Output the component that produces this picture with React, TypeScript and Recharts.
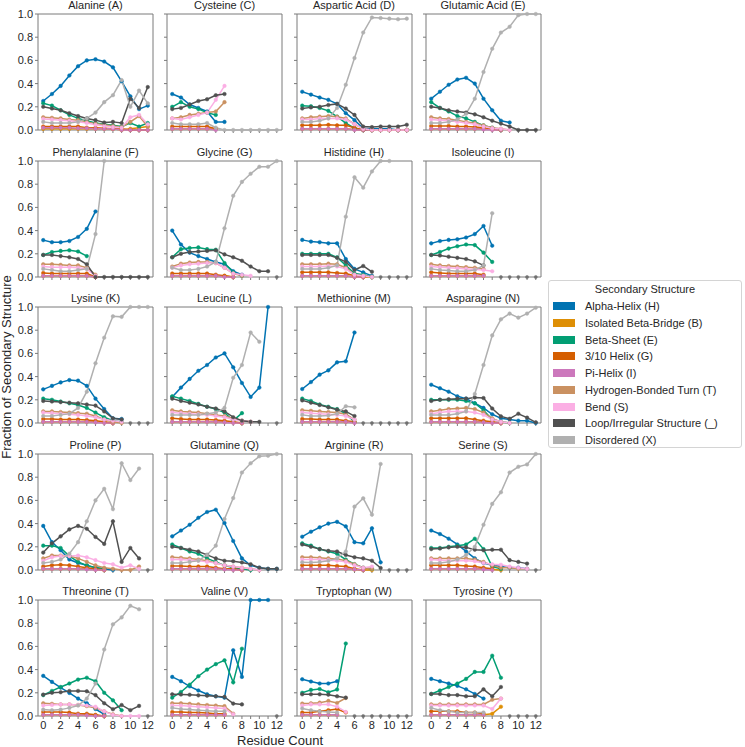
import React from 'react';
import { LineChart, Line, XAxis, YAxis, ReferenceArea } from 'recharts';

type Row = (number | null)[];

const xTicks = [0, 1, 2, 3, 4, 5, 6, 7, 8, 9, 10, 11, 12];
const yTicks = [0, 0.2, 0.4, 0.6, 0.8, 1.0];

const seriesKeys = ['H', 'B', 'E', 'G', 'I', 'T', 'S', 'L', 'X'];
const seriesLabels = [
  'Alpha-Helix (H)',
  'Isolated Beta-Bridge (B)',
  'Beta-Sheet (E)',
  '3/10 Helix (G)',
  'Pi-Helix (I)',
  'Hydrogen-Bonded Turn (T)',
  'Bend (S)',
  'Loop/Irregular Structure (_)',
  'Disordered (X)',
];
const seriesColors = ['#0173b2', '#de8f05', '#029e73', '#d55e00', '#cc78bc', '#ca9161', '#fbafe4', '#505050', '#b0b0b0'];

// rows: H, B, E, G, I, T, S, _, X  (index = residue count)
const alanine: Row[] = [
  [0.25, 0.31, 0.38, 0.47, 0.55, 0.6, 0.61, 0.59, 0.54, 0.42, 0.29, 0.18, 0.21],
  [0.01, 0.01, 0.01, 0.01, 0.01, 0.01, 0.01, 0.01, 0.01, 0.0, 0.01, 0.02, 0.03],
  [0.23, 0.21, 0.17, 0.13, 0.1, 0.08, 0.06, 0.05, 0.04, 0.03, 0.06, 0.03, 0.06],
  [0.03, 0.03, 0.03, 0.03, 0.03, 0.02, 0.02, 0.015, 0.01, 0.01, 0.0, 0.0, 0.0],
  [0.02, 0.02, 0.02, 0.02, 0.015, 0.015, 0.01, 0.01, 0.01, 0.0, 0.0, 0.0, 0.0],
  [0.11, 0.105, 0.1, 0.09, 0.085, 0.07, 0.055, 0.045, 0.035, 0.025, 0.07, 0.12, 0.03],
  [0.095, 0.09, 0.085, 0.08, 0.07, 0.06, 0.045, 0.035, 0.025, 0.02, 0.11, 0.13, 0.05],
  [0.2, 0.185, 0.17, 0.145, 0.12, 0.1, 0.085, 0.065, 0.07, 0.06, 0.27, 0.19, 0.37],
  [0.07, 0.06, 0.06, 0.06, 0.07, 0.1, 0.15, 0.24, 0.3, 0.43, 0.2, 0.34, 0.23],
];
const cysteine: Row[] = [
  [0.31, 0.28, 0.22, 0.19, 0.16, 0.07, 0.07],
  [0.01, 0.01, 0.01, 0.01, 0.01, 0.01],
  [0.2, 0.24, 0.2, 0.18, 0.15, 0.13],
  [0.03, 0.03, 0.03, 0.03, 0.03, 0.01],
  [0.01, 0.01, 0.01, 0.01, 0.01, 0.0],
  [0.1, 0.11, 0.13, 0.14, 0.15, 0.16, 0.24],
  [0.1, 0.09, 0.11, 0.13, 0.15, 0.26, 0.38],
  [0.18, 0.19, 0.22, 0.25, 0.265, 0.3, 0.31],
  [0.06, 0.05, 0.05, 0.05, 0.06, 0.02, 0, 0, 0, 0, 0, 0, 0],
];
const asparticAcid: Row[] = [
  [0.33, 0.305, 0.28, 0.26, 0.225, 0.145, 0.085, 0.015, 0.01, 0.01, 0.01, 0.0, 0.0],
  [0.01, 0.01, 0.01, 0.01, 0.01, 0.01, 0.005, 0, 0, 0, 0, 0, 0],
  [0.21, 0.205, 0.19, 0.165, 0.115, 0.06, 0.015, 0, 0, 0, 0, 0, 0],
  [0.04, 0.04, 0.04, 0.045, 0.04, 0.04, 0.02, 0, 0, 0, 0, 0, 0],
  [0.01, 0.01, 0.01, 0.01, 0.01, 0.01, 0.0, 0, 0, 0, 0, 0, 0],
  [0.1, 0.11, 0.115, 0.12, 0.115, 0.1, 0.05, 0.01, 0, 0, 0, 0, 0],
  [0.09, 0.09, 0.1, 0.1, 0.1, 0.09, 0.05, 0.01, 0, 0, 0, 0, 0],
  [0.185, 0.195, 0.2, 0.215, 0.225, 0.185, 0.13, 0.03, 0.025, 0.03, 0.03, 0.03, 0.045],
  [0.07, 0.07, 0.08, 0.1, 0.19, 0.39, 0.62, 0.84, 0.97, 0.965, 0.96, 0.955, 0.96],
];
const glutamicAcid: Row[] = [
  [0.27, 0.33, 0.39, 0.435, 0.45, 0.4, 0.27, 0.17, 0.08, 0.065],
  [0.01, 0.01, 0.01, 0.01, 0.01, 0.01, 0.01, 0.005, 0],
  [0.24, 0.19, 0.16, 0.12, 0.1, 0.07, 0.04, 0.02, 0.0],
  [0.035, 0.035, 0.035, 0.03, 0.03, 0.025, 0.02, 0.01, 0],
  [0.01, 0.01, 0.01, 0.01, 0.01, 0.01, 0.005, 0, 0],
  [0.11, 0.1, 0.095, 0.085, 0.07, 0.06, 0.04, 0.02, 0.01, 0],
  [0.09, 0.085, 0.08, 0.07, 0.06, 0.05, 0.03, 0.015, 0.01, 0],
  [0.2, 0.19, 0.17, 0.16, 0.15, 0.135, 0.11, 0.08, 0.055, 0.03, 0, 0, 0],
  [0.06, 0.06, 0.07, 0.09, 0.14, 0.27, 0.5, 0.7, 0.84, 0.89, 0.99, 1.0, 1.0],
];
const phenylalanine: Row[] = [
  [0.318, 0.3, 0.3, 0.31, 0.345, 0.415, 0.565],
  [0.01, 0.01, 0.01, 0.01, 0.01, 0.01, 0.0],
  [0.19, 0.215, 0.225, 0.23, 0.22, 0.18],
  [0.035, 0.03, 0.03, 0.03, 0.03, 0.03, 0.0],
  [0.01, 0.01, 0.01, 0.01, 0.01, 0.01, 0.0],
  [0.11, 0.11, 0.105, 0.1, 0.1, 0.08, 0.02],
  [0.09, 0.085, 0.085, 0.085, 0.08, 0.07, 0.01],
  [0.19, 0.19, 0.18, 0.17, 0.155, 0.11, 0.0, 0, 0, 0, 0, 0, 0],
  [0.07, 0.06, 0.05, 0.05, 0.06, 0.07, 0.37, 1.0],
];
const glycine: Row[] = [
  [0.4, 0.28, 0.21, 0.18, 0.155, 0.13, 0.11, 0.05, 0.02],
  [0.01, 0.01, 0.01, 0.01, 0.01, 0.01, 0.01, 0.0],
  [0.17, 0.24, 0.25, 0.255, 0.24, 0.235, 0.12, 0.04, 0.01],
  [0.03, 0.03, 0.03, 0.03, 0.03, 0.02, 0.01, 0],
  [0.01, 0.01, 0.01, 0.01, 0.01, 0.01, 0.0, 0],
  [0.09, 0.115, 0.125, 0.13, 0.13, 0.12, 0.08, 0.03, 0.01],
  [0.08, 0.1, 0.11, 0.115, 0.12, 0.12, 0.08, 0.03, 0.02, 0.01],
  [0.17, 0.2, 0.215, 0.22, 0.225, 0.23, 0.195, 0.17, 0.14, 0.09, 0.05, 0.05],
  [0.08, 0.06, 0.06, 0.07, 0.09, 0.13, 0.42, 0.7, 0.82, 0.89, 0.95, 0.95, 1.0],
];
const histidine: Row[] = [
  [0.32, 0.305, 0.3, 0.29, 0.29, 0.155, 0.07, 0.04, 0.01],
  [0.01, 0.01, 0.01, 0.01, 0.01, 0.01, 0.0, 0, 0],
  [0.2, 0.2, 0.2, 0.2, 0.17, 0.1, 0.03, 0.02, 0.0],
  [0.04, 0.04, 0.04, 0.04, 0.035, 0.03, 0.01, 0],
  [0.01, 0.01, 0.01, 0.01, 0.01, 0.01, 0.0, 0],
  [0.11, 0.11, 0.11, 0.115, 0.11, 0.08, 0.02, 0.01, 0],
  [0.09, 0.09, 0.09, 0.095, 0.09, 0.07, 0.02, 0.01, 0],
  [0.19, 0.19, 0.19, 0.19, 0.165, 0.13, 0.06, 0.095, 0.045],
  [0.07, 0.07, 0.07, 0.08, 0.1, 0.52, 0.86, 0.77, 0.91, 1.0, 1.0],
];
const isoleucine: Row[] = [
  [0.29, 0.31, 0.32, 0.325, 0.34, 0.37, 0.44, 0.27],
  [0.01, 0.01, 0.01, 0.01, 0.01, 0.01, 0.01],
  [0.19, 0.215, 0.245, 0.265, 0.28, 0.275, 0.21, 0.13],
  [0.04, 0.035, 0.03, 0.03, 0.03, 0.03, 0.02],
  [0.01, 0.01, 0.01, 0.01, 0.01, 0.01, 0.01],
  [0.11, 0.1, 0.095, 0.09, 0.085, 0.08, 0.07],
  [0.09, 0.085, 0.08, 0.075, 0.07, 0.065, 0.06, 0.05],
  [0.19, 0.185, 0.175, 0.165, 0.155, 0.135, 0.1],
  [0.07, 0.06, 0.055, 0.05, 0.05, 0.06, 0.1, 0.55],
];
const lysine: Row[] = [
  [0.29, 0.32, 0.35, 0.37, 0.365, 0.32, 0.21, 0.12, 0.04, 0.035],
  [0.01, 0.01, 0.01, 0.01, 0.01, 0.01, 0.01, 0.005, 0],
  [0.21, 0.2, 0.185, 0.17, 0.155, 0.13, 0.09, 0.05, 0.02, 0.01],
  [0.035, 0.035, 0.03, 0.03, 0.03, 0.025, 0.02, 0.01, 0],
  [0.01, 0.01, 0.01, 0.01, 0.01, 0.01, 0.005, 0, 0],
  [0.1, 0.1, 0.095, 0.09, 0.085, 0.08, 0.06, 0.03, 0.01, 0],
  [0.09, 0.085, 0.08, 0.075, 0.07, 0.06, 0.05, 0.03, 0.02, 0.01],
  [0.19, 0.185, 0.18, 0.175, 0.17, 0.16, 0.15, 0.1, 0.04, 0.03],
  [0.06, 0.06, 0.07, 0.08, 0.13, 0.27, 0.515, 0.735, 0.92, 0.915, 1.0, 1.0, 1.0],
];
const leucine: Row[] = [
  [0.225, 0.305, 0.38, 0.45, 0.5, 0.565, 0.6, 0.48, 0.345, 0.225, 0.305, 1.0],
  [0.01, 0.01, 0.01, 0.01, 0.01, 0.01, 0.01, 0.005, 0],
  [0.23, 0.21, 0.19, 0.165, 0.14, 0.12, 0.09, 0.02, 0.085],
  [0.04, 0.035, 0.03, 0.03, 0.03, 0.025, 0.02, 0.01, 0],
  [0.01, 0.01, 0.01, 0.01, 0.01, 0.01, 0.005, 0, 0],
  [0.11, 0.1, 0.095, 0.09, 0.08, 0.07, 0.06, 0.04, 0.02, 0.01],
  [0.09, 0.085, 0.08, 0.075, 0.07, 0.06, 0.05, 0.03, 0.02, 0.01],
  [0.21, 0.19, 0.175, 0.16, 0.14, 0.125, 0.1, 0.05, 0.02, 0.01, 0.01],
  [0.07, 0.07, 0.07, 0.07, 0.08, 0.09, 0.13, 0.39, 0.5, 0.78, 0.7],
];
const methionine: Row[] = [
  [0.293, 0.353, 0.417, 0.454, 0.523, 0.532, 0.78],
  [0.01, 0.01, 0.01, 0.01, 0.01, 0.01, 0.005],
  [0.21, 0.19, 0.16, 0.14, 0.12, 0.08, 0.01],
  [0.035, 0.035, 0.03, 0.03, 0.03, 0.02, 0.01],
  [0.01, 0.01, 0.01, 0.01, 0.01, 0.01, 0.0],
  [0.11, 0.105, 0.1, 0.095, 0.09, 0.075, 0.03],
  [0.09, 0.085, 0.08, 0.075, 0.07, 0.06, 0.03],
  [0.195, 0.175, 0.155, 0.135, 0.115, 0.1, 0.06],
  [0.07, 0.06, 0.06, 0.065, 0.08, 0.145, 0.135],
];
const asparagine: Row[] = [
  [0.33, 0.3, 0.27, 0.23, 0.21, 0.17, 0.13, 0.075, 0.04, 0.03, 0.02, 0.02, 0.0],
  [0.01, 0.01, 0.01, 0.01, 0.01, 0.01, 0.01, 0.005, 0],
  [0.2, 0.2, 0.2, 0.2, 0.19, 0.17, 0.11, 0.03, 0.01, 0],
  [0.04, 0.04, 0.04, 0.04, 0.04, 0.03, 0.02, 0.01, 0],
  [0.01, 0.01, 0.01, 0.01, 0.01, 0.01, 0.005, 0, 0],
  [0.1, 0.11, 0.12, 0.125, 0.13, 0.12, 0.09, 0.04, 0.01, 0],
  [0.08, 0.09, 0.1, 0.1, 0.1, 0.09, 0.07, 0.03, 0.01, 0],
  [0.19, 0.2, 0.205, 0.21, 0.21, 0.22, 0.215, 0.125, 0.057, 0.037, 0.08, 0.046, 0.006],
  [0.07, 0.07, 0.07, 0.08, 0.1, 0.25, 0.5, 0.755, 0.894, 0.943, 0.908, 0.943, 0.994],
];
const proline: Row[] = [
  [0.38, 0.24, 0.17, 0.09, 0.06, 0.04, 0.02, 0.01, 0.0],
  [0.01, 0.01, 0.01, 0.01, 0.01, 0.01, 0.005, 0],
  [0.21, 0.21, 0.19, 0.12, 0.07, 0.04, 0.02, 0.01],
  [0.03, 0.04, 0.045, 0.04, 0.03, 0.02, 0.01, 0.0],
  [0.01, 0.01, 0.01, 0.01, 0.01, 0.005, 0, 0],
  [0.1, 0.125, 0.125, 0.12, 0.1, 0.07, 0.04, 0.02, 0.01, 0, 0, 0.03],
  [0.08, 0.11, 0.12, 0.12, 0.125, 0.11, 0.085, 0.06, 0.05, 0.02, 0.04, 0.01],
  [0.15, 0.23, 0.29, 0.35, 0.38, 0.355, 0.285, 0.225, 0.42, 0.07, 0.19, 0.1],
  [0.06, 0.07, 0.09, 0.14, 0.24, 0.42, 0.6, 0.7, 0.525, 0.92, 0.775, 0.875],
];
const glutamine: Row[] = [
  [0.29, 0.34, 0.39, 0.45, 0.5, 0.52, 0.405, 0.25, 0.1, 0.04, 0.02, 0.01, 0.01],
  [0.01, 0.01, 0.01, 0.01, 0.01, 0.01, 0.01, 0.005, 0],
  [0.22, 0.19, 0.16, 0.14, 0.1, 0.07, 0.04, 0.02, 0.01, 0],
  [0.035, 0.035, 0.03, 0.03, 0.03, 0.02, 0.01, 0.01, 0],
  [0.01, 0.01, 0.01, 0.01, 0.01, 0.01, 0.005, 0, 0],
  [0.11, 0.105, 0.1, 0.09, 0.08, 0.06, 0.04, 0.03, 0.02, 0.01, 0],
  [0.09, 0.09, 0.085, 0.08, 0.07, 0.06, 0.04, 0.03, 0.02, 0.01, 0],
  [0.2, 0.19, 0.175, 0.16, 0.13, 0.1, 0.08, 0.075, 0.065, 0.05, 0.02, 0.01, 0.01],
  [0.06, 0.06, 0.07, 0.08, 0.13, 0.21, 0.44, 0.62, 0.84, 0.92, 0.98, 0.985, 1.0],
];
const arginine: Row[] = [
  [0.287, 0.33, 0.368, 0.4, 0.415, 0.376, 0.24, 0.23, 0.36, 0.066],
  [0.01, 0.01, 0.01, 0.01, 0.01, 0.01, 0.005, 0, 0],
  [0.23, 0.21, 0.18, 0.16, 0.14, 0.09, 0.05, 0.02, 0.01],
  [0.04, 0.04, 0.04, 0.04, 0.035, 0.03, 0.01, 0],
  [0.01, 0.01, 0.01, 0.01, 0.01, 0.01, 0.005, 0],
  [0.11, 0.11, 0.105, 0.1, 0.095, 0.08, 0.05, 0.02, 0.01],
  [0.09, 0.09, 0.09, 0.085, 0.08, 0.07, 0.04, 0.02, 0.03],
  [0.22, 0.2, 0.18, 0.165, 0.16, 0.13, 0.11, 0.1, 0.08, 0.017],
  [0.066, 0.065, 0.07, 0.08, 0.1, 0.16, 0.546, 0.618, 0.477, 0.914],
];
const serine: Row[] = [
  [0.34, 0.31, 0.27, 0.22, 0.16, 0.1, 0.06, 0.04, 0.03, 0.02, 0.02, 0.01],
  [0.01, 0.01, 0.01, 0.01, 0.01, 0.01, 0.01, 0.005, 0],
  [0.19, 0.19, 0.2, 0.21, 0.22, 0.27, 0.18, 0.03, 0.01],
  [0.04, 0.04, 0.04, 0.04, 0.035, 0.03, 0.02, 0.01],
  [0.01, 0.01, 0.01, 0.01, 0.01, 0.01, 0.005, 0],
  [0.1, 0.1, 0.1, 0.1, 0.1, 0.09, 0.07, 0.04, 0.02, 0.02, 0.01, 0.01],
  [0.09, 0.085, 0.08, 0.08, 0.08, 0.075, 0.06, 0.05, 0.045, 0.03, 0.02, 0.01],
  [0.18, 0.185, 0.195, 0.2, 0.195, 0.175, 0.17, 0.175, 0.175, 0.085, 0.07, 0.055],
  [0.06, 0.06, 0.07, 0.09, 0.13, 0.2, 0.39, 0.57, 0.67, 0.84, 0.89, 0.91, 1.0],
];
const threonine: Row[] = [
  [0.346, 0.294, 0.245, 0.199, 0.15, 0.11, 0.06, 0.015],
  [0.01, 0.01, 0.01, 0.01, 0.01, 0.01, 0.005, 0],
  [0.18, 0.216, 0.25, 0.28, 0.314, 0.33, 0.3, 0.2, 0.135, 0.05],
  [0.035, 0.035, 0.035, 0.03, 0.02, 0.02, 0.01, 0],
  [0.01, 0.01, 0.01, 0.01, 0.01, 0.005, 0, 0],
  [0.11, 0.105, 0.1, 0.1, 0.095, 0.085, 0.07, 0.04, 0.015, 0],
  [0.09, 0.095, 0.1, 0.1, 0.095, 0.09, 0.08, 0.04, 0.01, 0, 0, 0],
  [0.184, 0.2, 0.205, 0.216, 0.216, 0.213, 0.18, 0.11, 0.058, 0.095, 0.05, 0.087],
  [0.055, 0.05, 0.055, 0.07, 0.09, 0.15, 0.28, 0.573, 0.79, 0.85, 0.95, 0.92],
];
const valine: Row[] = [
  [0.337, 0.3, 0.256, 0.22, 0.187, 0.17, 0.158, 0.567, 0.337, 1.0, 1.0, 1.0],
  [0.01, 0.01, 0.01, 0.01, 0.01, 0.01, 0.01],
  [0.158, 0.207, 0.27, 0.343, 0.4, 0.447, 0.48, 0.29, 0.58],
  [0.035, 0.035, 0.03, 0.03, 0.025, 0.02, 0.02],
  [0.01, 0.01, 0.01, 0.01, 0.01, 0.01, 0.01],
  [0.11, 0.11, 0.105, 0.1, 0.095, 0.09, 0.085, 0.02],
  [0.09, 0.09, 0.085, 0.08, 0.075, 0.07, 0.065, 0.015],
  [0.187, 0.185, 0.183, 0.178, 0.175, 0.17, 0.165, 0.107, 0.1],
  [0.07, 0.06, 0.055, 0.05, 0.045, 0.04, 0.04],
];
const tryptophan: Row[] = [
  [0.317, 0.297, 0.28, 0.28, 0.3],
  [0.01, 0.01, 0.01, 0.01, 0.01],
  [0.2, 0.225, 0.233, 0.205, 0.228, 0.625],
  [0.03, 0.03, 0.04, 0.05, 0.06, 0.03],
  [0.01, 0.01, 0.01, 0.01, 0.01],
  [0.107, 0.11, 0.115, 0.13, 0.112, 0.155],
  [0.09, 0.1, 0.1, 0.1, 0.08, 0.035],
  [0.187, 0.187, 0.187, 0.184, 0.17, 0.158],
  [0.065, 0.05, 0.04, 0.035, 0.03],
];
const tyrosine: Row[] = [
  [0.32, 0.3, 0.28, 0.26, 0.23, 0.19, 0.15],
  [0.01, 0.01, 0.01, 0.01, 0.01, 0.01, 0.01, 0.02, 0.08],
  [0.19, 0.22, 0.25, 0.28, 0.32, 0.38, 0.38, 0.52, 0.33],
  [0.04, 0.04, 0.04, 0.04, 0.03, 0.03, 0.02],
  [0.01, 0.01, 0.01, 0.01, 0.01, 0.01, 0.01],
  [0.1, 0.1, 0.1, 0.1, 0.1, 0.1, 0.1, 0.14, 0.15],
  [0.09, 0.09, 0.09, 0.09, 0.09, 0.09, 0.09, 0.06, 0.15],
  [0.19, 0.19, 0.18, 0.18, 0.17, 0.17, 0.23, 0.17, 0.25],
  [0.07, 0.05, 0.04, 0.03, 0.03, 0.03, 0.03],
];

// residue counts with an empty (0) marker past the end of the data
const glycineEmpty = [12];
const histidineEmpty = [9, 10, 11, 12];
const isoleucineEmpty = [8, 9, 10, 11, 12];
const lysineEmpty = [10, 11, 12];
const leucineEmpty = [12];
const methionineEmpty = [7, 8, 9, 10, 11, 12];
const prolineEmpty = [12];
const arginineEmpty = [10, 11, 12];
const serineEmpty = [12];
const threonineEmpty = [12];
const valineEmpty = [12];
const tryptophanEmpty = [6, 7, 8, 9, 10, 11, 12];
const tyrosineEmpty = [9, 10, 11, 12];

const panels = [
  { title: 'Alanine (A)', rows: alanine, empty: [] as number[] },
  { title: 'Cysteine (C)', rows: cysteine, empty: [] as number[] },
  { title: 'Aspartic Acid (D)', rows: asparticAcid, empty: [] as number[] },
  { title: 'Glutamic Acid (E)', rows: glutamicAcid, empty: [] as number[] },
  { title: 'Phenylalanine (F)', rows: phenylalanine, empty: [] as number[] },
  { title: 'Glycine (G)', rows: glycine, empty: glycineEmpty },
  { title: 'Histidine (H)', rows: histidine, empty: histidineEmpty },
  { title: 'Isoleucine (I)', rows: isoleucine, empty: isoleucineEmpty },
  { title: 'Lysine (K)', rows: lysine, empty: lysineEmpty },
  { title: 'Leucine (L)', rows: leucine, empty: leucineEmpty },
  { title: 'Methionine (M)', rows: methionine, empty: methionineEmpty },
  { title: 'Asparagine (N)', rows: asparagine, empty: [] as number[] },
  { title: 'Proline (P)', rows: proline, empty: prolineEmpty },
  { title: 'Glutamine (Q)', rows: glutamine, empty: [] as number[] },
  { title: 'Arginine (R)', rows: arginine, empty: arginineEmpty },
  { title: 'Serine (S)', rows: serine, empty: serineEmpty },
  { title: 'Threonine (T)', rows: threonine, empty: threonineEmpty },
  { title: 'Valine (V)', rows: valine, empty: valineEmpty },
  { title: 'Tryptophan (W)', rows: tryptophan, empty: tryptophanEmpty },
  { title: 'Tyrosine (Y)', rows: tyrosine, empty: tyrosineEmpty },
];

const colX = [38, 167, 296.5, 425.5];
const rowY = [14, 160.5, 307, 453.5, 600];
const PW = 115;
const FRAME = '#7a7a7a';
const TEXT = '#262626';

const Panel = ({ idx }: { idx: number }) => {
  const p = panels[idx];
  const col = idx % 4;
  const row = Math.floor(idx / 4);
  const bottom = row === 4;
  const data = xTicks.map((x, i) => {
    const d: Record<string, number | null> = { x };
    seriesKeys.forEach((k, j) => {
      const v = p.rows[j][i];
      d[k] = v === undefined ? null : v;
    });
    d.Z = p.empty.includes(x) ? 0 : null;
    return d;
  });

  return (
    <>
      <div
        style={{
          position: 'absolute',
          left: colX[col],
          top: rowY[row] - 16,
          width: PW,
          textAlign: 'center',
          fontSize: 11,
          lineHeight: '14px',
          color: TEXT,
          whiteSpace: 'nowrap',
        }}
      >
        {p.title}
      </div>
      <div style={{ position: 'absolute', left: colX[col] - 40, top: rowY[row] - 5 }}>
        <LineChart width={160} height={146} data={data} margin={{ top: 5, right: 5, left: 0, bottom: 0 }}>
          <XAxis
            dataKey="x"
            type="number"
            domain={[-0.6, 12.6]}
            ticks={xTicks}
            interval={0}
            height={25}
            axisLine={false}
            tickSize={3}
            tickLine={{ stroke: FRAME }}
            tick={{ fontSize: 11, fill: TEXT }}
            tickFormatter={(v: number) => (bottom && v % 2 === 0 ? String(v) : '')}
          />
          <YAxis
            type="number"
            domain={[0, 1]}
            ticks={yTicks}
            interval={0}
            width={40}
            axisLine={false}
            tickSize={3}
            tickLine={{ stroke: FRAME }}
            tick={{ fontSize: 11, fill: TEXT }}
            tickFormatter={(v: number) => (col === 0 ? v.toFixed(1) : '')}
          />
          <ReferenceArea x1={-0.6} x2={12.6} y1={0} y2={1} fill="none" stroke={FRAME} strokeWidth={1} />
          {seriesKeys.map((k, j) => (
            <Line
              key={k}
              dataKey={k}
              type="linear"
              stroke={seriesColors[j]}
              strokeWidth={1.5}
              dot={{ r: 1.8, fill: seriesColors[j], stroke: seriesColors[j], strokeWidth: 0.5 }}
              activeDot={false}
              isAnimationActive={false}
            />
          ))}
          <Line
            dataKey="Z"
            stroke="none"
            dot={{ r: 1.6, fill: '#707070', stroke: '#707070', strokeWidth: 0.5 }}
            activeDot={false}
            isAnimationActive={false}
          />
        </LineChart>
      </div>
    </>
  );
};

const Legend = () => (
  <div
    style={{
      position: 'absolute',
      left: 548,
      top: 280,
      width: 194,
      height: 168,
      border: '1px solid #d4d4d4',
      borderRadius: 3,
      boxSizing: 'border-box',
      color: TEXT,
      fontSize: 11,
    }}
  >
    <div style={{ position: 'absolute', left: 0, right: 0, top: 1, textAlign: 'center', lineHeight: '14px' }}>
      Secondary Structure
    </div>
    {seriesLabels.map((label, i) => (
      <div key={label} style={{ position: 'absolute', left: 4, top: 18 + i * 16.75, height: 14, lineHeight: '14px', whiteSpace: 'nowrap' }}>
        <span
          style={{
            position: 'absolute',
            left: 0,
            top: 3,
            width: 22,
            height: 8,
            background: seriesColors[i],
          }}
        />
        <span style={{ position: 'absolute', left: 32 }}>{label}</span>
      </div>
    ))}
  </div>
);

export default function App() {
  return (
    <div
      style={{
        position: 'absolute',
        left: 0,
        top: 0,
        width: 745,
        height: 747,
        background: '#fff',
        fontFamily: '"Liberation Sans", Arial, sans-serif',
        overflow: 'hidden',
      }}
    >
      {panels.map((_, i) => (
        <Panel key={i} idx={i} />
      ))}
      <Legend />
      <div
        style={{
          position: 'absolute',
          left: 180,
          top: 733,
          width: 200,
          textAlign: 'center',
          fontSize: 13,
          lineHeight: '16px',
          color: TEXT,
        }}
      >
        Residue Count
      </div>
      <div
        style={{
          position: 'absolute',
          left: 7,
          top: 367,
          transform: 'translate(-50%, -50%) rotate(-90deg)',
          fontSize: 13,
          lineHeight: '16px',
          whiteSpace: 'nowrap',
          color: TEXT,
        }}
      >
        Fraction of Secondary Structure
      </div>
    </div>
  );
}
